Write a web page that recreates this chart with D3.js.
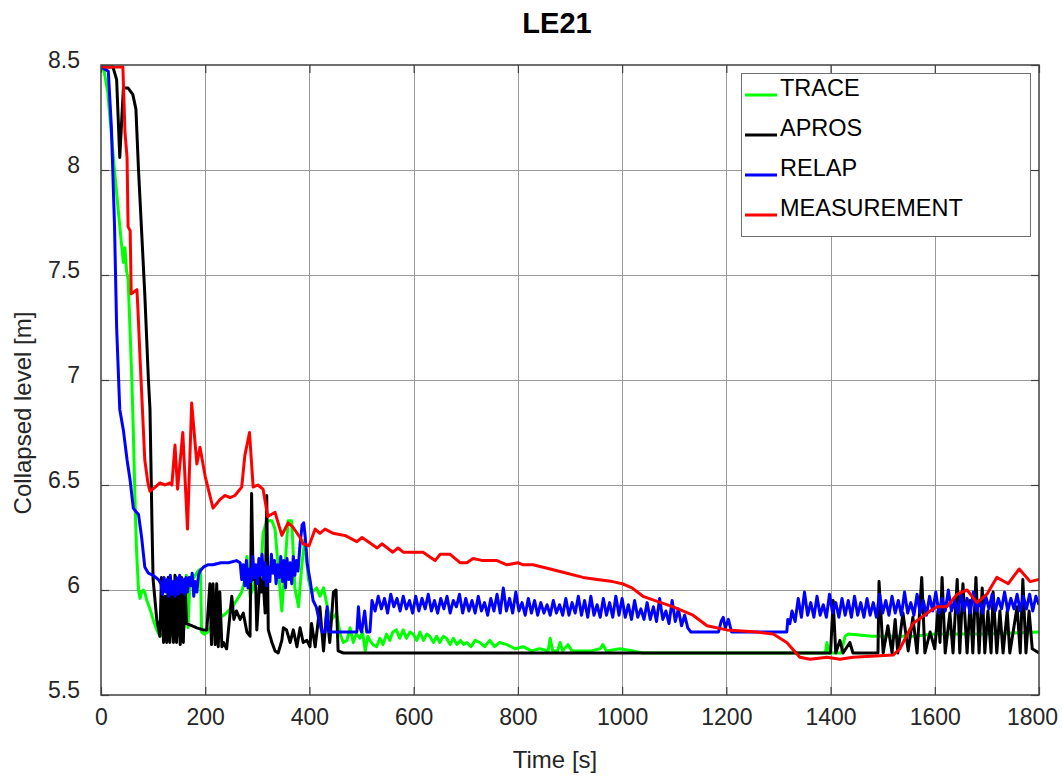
<!DOCTYPE html>
<html>
<head>
<meta charset="utf-8">
<script src="https://cdn.jsdelivr.net/npm/d3@7"></script>
<style>
  body { margin: 0; background: #fff; }
  text { font-family: "Liberation Sans", Arial, sans-serif; }
</style>
</head>
<body>
<svg id="chart" width="1062" height="776"></svg>
<script>
// series names + colours (legend order = draw order)
const seriesNames = ["TRACE", "APROS", "RELAP", "MEASUREMENT"];
const seriesColors = ["#00ff00", "#000000", "#0000ff", "#ff0000"];

const xTicks = [0, 200, 400, 600, 800, 1000, 1200, 1400, 1600, 1800];
const yTicks = [5.5, 6, 6.5, 7, 7.5, 8, 8.5];

// [time s, level m]
const traceData = [[0,8.49],[6,8.47],[13,8.37],[24,8.05],[33,7.81],[40,7.63],[43,7.56],[46,7.63],[49,7.52],[52,7.48],[56,7.22],[59,7.01],[62,6.76],[65,6.45],[68,6.2],[72,6.0],[75,5.96],[78,5.99],[81,6.0],[84,5.99],[88,5.95],[94,5.91],[100,5.86],[107,5.81],[113,5.78],[120,5.79],[130,5.77],[140,5.80],[150,5.78],[158,5.80],[162,5.86],[164,6.07],[167,5.82],[171,6.06],[176,6.05],[181,6.07],[186,6.09],[191,6.10],[193,5.80],[198,5.79],[205,5.80],[212,5.83],[220,5.85],[228,5.87],[236,5.88],[244,5.90],[252,5.92],[260,5.95],[265,5.97],[270,5.99],[276,6.05],[280,6.16],[283,6.05],[286,5.97],[292,6.01],[299,6.11],[305,6.01],[311,6.27],[318,6.33],[328,6.33],[334,6.29],[340,6.11],[347,5.90],[353,6.11],[359,6.33],[366,6.33],[372,6.01],[379,5.92],[385,6.11],[391,6.24],[398,6.05],[404,5.99],[410,6.0],[414,6.01],[420,5.97],[427,6.01],[436,5.90],[443,5.86],[452,5.89],[459,5.79],[465,5.75],[472,5.76],[478,5.82],[484,5.75],[490,5.79],[497,5.77],[502,5.80],[507,5.71],[512,5.78],[516,5.76],[522,5.74],[529,5.73],[535,5.77],[541,5.74],[548,5.79],[554,5.76],[560,5.80],[567,5.81],[573,5.77],[580,5.81],[586,5.77],[593,5.80],[599,5.79],[606,5.76],[612,5.80],[619,5.76],[625,5.79],[631,5.78],[638,5.75],[644,5.78],[650,5.75],[657,5.78],[663,5.77],[670,5.74],[676,5.77],[683,5.74],[690,5.76],[696,5.74],[702,5.75],[710,5.73],[718,5.76],[727,5.75],[736,5.73],[746,5.76],[755,5.73],[765,5.75],[779,5.74],[795,5.72],[810,5.73],[826,5.71],[842,5.72],[858,5.71],[862,5.77],[867,5.71],[876,5.71],[881,5.75],[886,5.71],[896,5.74],[904,5.71],[940,5.71],[958,5.72],[963,5.74],[970,5.71],[996,5.72],[1021,5.71],[1040,5.70],[1390,5.70],[1393,5.75],[1397,5.70],[1420,5.70],[1428,5.78],[1434,5.79],[1480,5.78],[1560,5.78],[1600,5.79],[1700,5.79],[1800,5.80]];

const aprosData = [[0,8.49],[23,8.49],[30,8.43],[36,8.06],[43,8.39],[52,8.39],[61,8.36],[67,8.29],[72,8.0],[84,7.41],[91,7.0],[94,6.86],[98,6.29],[100,6.05],[107,5.86],[113,5.78],[116,6.06],[120,5.75],[123,5.97],[126,5.75],[129,6.06],[132,5.75],[136,5.99],[139,5.75],[142,6.07],[145,5.75],[148,6.01],[152,5.74],[155,6.06],[158,5.75],[161,6.05],[164,5.84],[174,5.83],[184,5.82],[196,5.81],[203,5.81],[209,6.03],[212,5.74],[215,6.03],[219,5.74],[222,6.03],[225,5.73],[228,5.99],[232,5.73],[235,5.75],[241,5.72],[251,5.97],[255,5.86],[260,5.90],[267,5.86],[273,5.89],[280,5.80],[286,5.78],[289,6.46],[292,6.05],[296,6.11],[299,5.81],[305,6.06],[308,5.99],[311,6.05],[315,5.89],[318,6.45],[321,5.81],[328,5.75],[334,5.71],[340,5.70],[347,5.76],[350,5.82],[356,5.81],[363,5.75],[369,5.81],[376,5.73],[382,5.82],[388,5.75],[395,5.76],[401,5.73],[404,5.84],[411,5.73],[420,5.92],[427,5.71],[433,5.90],[439,5.75],[446,5.99],[451,6.0],[455,5.71],[465,5.70],[1400,5.70],[1405,5.95],[1410,5.70],[1418,5.76],[1424,5.70],[1437,5.75],[1443,5.70],[1491,5.70],[1493,6.04],[1501,5.70],[1510,5.83],[1518,5.70],[1524,5.86],[1529,5.70],[1539,5.89],[1549,5.71],[1558,5.87],[1566,5.70],[1575,6.06],[1581,5.70],[1591,5.80],[1600,5.72],[1606,5.90],[1610,5.75],[1614,6.06],[1620,5.70],[1629,5.89],[1635,5.70],[1643,6.05],[1648,5.70],[1654,6.03],[1662,5.70],[1668,5.95],[1673,5.70],[1679,6.06],[1685,5.70],[1691,6.01],[1696,5.70],[1702,5.90],[1708,5.70],[1712,5.99],[1719,5.70],[1725,5.90],[1731,5.70],[1739,5.90],[1744,5.70],[1758,5.92],[1764,5.70],[1769,6.05],[1775,5.70],[1781,5.90],[1787,5.72],[1800,5.70]];

const relapData = [[0,8.49],[14,8.47],[20,8.2],[26,7.73],[30,7.25],[36,6.86],[43,6.76],[50,6.62],[56,6.52],[62,6.39],[68,6.37],[72,6.36],[78,6.25],[84,6.11],[91,6.08],[100,6.07],[110,6.05],
  [115,6.03],[118,5.98],[121,6.06],[124,5.99],[127,6.05],[130,5.97],[133,6.07],[136,5.98],[139,6.04],[142,5.97],[145,6.06],[148,5.98],[151,6.07],[154,5.99],[157,6.05],[160,5.98],[163,6.06],[166,5.99],[169,6.06],[172,6.02],[175,6.08],[178,5.97],[181,6.04],[184,5.99],[187,6.07],[190,6.09],
  [197,6.11],[205,6.12],[215,6.12],[230,6.13],[245,6.13],[260,6.14],[267,6.13],
  [270,6.05],[273,6.12],[276,6.02],[279,6.14],[282,6.01],[285,6.10],[288,6.04],[291,6.16],[294,6.06],[297,6.12],[300,6.03],[303,6.15],[306,6.07],[309,6.17],[312,6.05],[315,6.13],[318,6.02],[321,6.11],[324,6.04],[327,6.17],[330,6.08],[333,6.14],[336,6.03],[339,6.12],[342,6.06],[345,6.16],[348,6.04],[351,6.14],[354,6.01],[357,6.15],[360,6.05],[363,6.13],[366,6.03],[369,6.16],[372,6.07],[375,6.14],[378,6.09],[382,6.22],[386,6.31],[389,6.32],[392,6.25],[396,6.12],[401,6.05],[407,5.95],[413,5.92],[420,5.84],[424,5.80],[430,5.80],[434,5.92],[438,5.80],[450,5.80],[470,5.80],[491,5.80],[494,5.92],[497,5.82],[500,5.80],[506,5.90],[510,5.80],[516,5.80],[520,5.95],
  [526,5.90],[532,5.97],[538,5.91],[544,5.96],[550,5.89],[556,5.98],[562,5.92],[568,5.96],[574,5.90],[580,5.97],[586,5.91],[592,5.95],[598,5.89],[604,5.97],[610,5.90],[616,5.96],[622,5.91],[628,5.98],[634,5.90],[640,5.95],[646,5.89],[652,5.96],[658,5.91],[664,5.97],[670,5.89],[676,5.95],[682,5.92],[688,5.98],[694,5.89],[700,5.96],[706,5.90],[712,5.95],[718,5.89],[724,5.97],[730,5.90],[736,5.94],[742,5.88],[748,5.96],[754,5.90],[760,5.98],[766,5.89],[772,6.01],[778,5.90],[784,5.96],[790,5.89],[796,5.99],[802,5.90],[808,5.94],[814,5.88],[820,5.96],[826,5.89],[832,5.95],[838,5.88],[844,5.94],[850,5.89],[856,5.93],[862,5.88],[868,5.95],[874,5.89],[880,5.93],[886,5.88],[892,5.96],[898,5.88],[904,5.94],[910,5.89],[916,5.97],[922,5.88],[928,5.95],[934,5.87],[940,5.97],[946,5.88],[952,5.93],[958,5.87],[964,5.96],[970,5.88],[976,5.94],[982,5.87],[988,5.97],[994,5.88],[1000,5.96],[1006,5.87],[1012,5.93],[1018,5.86],[1024,5.95],[1030,5.87],[1036,5.91],[1042,5.86],[1048,5.94],[1054,5.86],[1060,5.92],[1066,5.85],[1072,5.96],[1078,5.86],[1084,5.90],[1090,5.84],[1096,5.95],[1102,5.85],[1108,5.91],[1114,5.83],[1120,5.88],[1126,5.82],[1132,5.80],
  [1150,5.80],[1185,5.80],[1190,5.85],[1194,5.87],[1198,5.82],[1204,5.86],[1210,5.80],[1250,5.80],[1300,5.80],[1316,5.80],[1318,5.86],[1322,5.84],
  [1326,5.90],[1332,5.85],[1338,5.96],[1344,5.87],[1350,5.99],[1356,5.88],[1362,5.94],[1368,5.87],[1374,5.97],[1380,5.88],[1386,5.93],[1392,5.87],[1398,5.98],[1404,5.89],[1410,5.94],[1416,5.87],[1422,5.96],[1428,5.88],[1434,5.95],[1440,5.87],[1446,5.97],[1452,5.88],[1458,5.94],[1464,5.87],[1470,5.96],[1476,5.88],[1482,5.94],[1488,5.87],[1494,5.98],[1500,5.89],[1506,5.95],[1512,5.88],[1518,5.97],[1524,5.89],[1530,5.95],[1536,5.88],[1542,5.99],[1548,5.89],[1554,5.94],[1560,5.88],[1566,5.98],[1572,5.89],[1578,5.95],[1584,5.88],[1590,5.97],[1596,5.90],[1602,5.99],[1608,5.89],[1614,5.96],[1620,5.90],[1626,6.00],[1632,5.90],[1638,5.95],[1644,5.89],[1650,5.98],[1656,5.90],[1662,5.96],[1668,5.89],[1674,5.99],[1680,5.90],[1686,5.95],[1692,5.89],[1698,5.97],[1704,5.91],[1710,5.98],[1716,5.90],[1722,5.96],[1728,5.91],[1734,5.99],[1740,5.90],[1746,5.96],[1752,5.91],[1758,5.98],[1764,5.90],[1770,5.97],[1776,5.91],[1782,5.98],[1788,5.90],[1794,5.97],[1800,5.93]];

const measData = [[0,8.49],[42,8.49],[46,8.18],[50,8.06],[52,7.73],[56,7.71],[58,7.41],[69,7.43],[71,7.33],[75,7.10],[78,6.94],[84,6.62],[90,6.51],[94,6.47],[104,6.49],[113,6.51],[123,6.50],[132,6.51],[136,6.50],[142,6.69],[147,6.48],[157,6.75],[166,6.29],[174,6.89],[184,6.60],[190,6.68],[200,6.54],[215,6.39],[228,6.43],[238,6.45],[248,6.44],[257,6.45],[270,6.49],[276,6.64],[285,6.75],[292,6.49],[301,6.50],[311,6.48],[320,6.35],[334,6.37],[347,6.26],[359,6.32],[368,6.30],[382,6.25],[388,6.22],[399,6.21],[411,6.29],[420,6.27],[430,6.29],[445,6.27],[468,6.26],[491,6.23],[501,6.25],[530,6.20],[539,6.22],[560,6.18],[570,6.20],[580,6.18],[606,6.18],[618,6.18],[641,6.14],[651,6.17],[670,6.17],[689,6.13],[702,6.13],[714,6.15],[733,6.14],[760,6.14],[779,6.12],[800,6.13],[810,6.12],[829,6.12],[862,6.10],[894,6.08],[925,6.06],[952,6.05],[982,6.04],[1000,6.03],[1019,6.01],[1040,5.97],[1098,5.92],[1136,5.88],[1163,5.83],[1201,5.81],[1259,5.80],[1290,5.79],[1316,5.75],[1341,5.68],[1361,5.67],[1393,5.68],[1418,5.67],[1443,5.68],[1520,5.69],[1533,5.72],[1558,5.84],[1591,5.90],[1604,5.92],[1623,5.92],[1643,5.98],[1662,6.00],[1681,5.94],[1700,5.98],[1719,6.06],[1741,6.03],[1762,6.10],[1783,6.04],[1800,6.05]];

const allSeries = [traceData, aprosData, relapData, measData];

const svg = d3.select("#chart");
svg.append("rect").attr("width", 1062).attr("height", 776).attr("fill", "#fff");

const mLeft = 101, mRight = 1039, mTop = 65, mBottom = 695;
const x = d3.scaleLinear().domain([0, 1800]).range([mLeft, mRight]);
const y = d3.scaleLinear().domain([5.5, 8.5]).range([mBottom, mTop]);

// grid
const grid = svg.append("g").attr("stroke", "#999").attr("stroke-width", 1);
grid.selectAll("line.v").data(xTicks.slice(1, -1)).enter().append("line")
  .attr("x1", d => Math.round(x(d)) + 0.5).attr("x2", d => Math.round(x(d)) + 0.5)
  .attr("y1", mTop).attr("y2", mBottom);
grid.selectAll("line.h").data(yTicks.slice(1, -1)).enter().append("line")
  .attr("y1", d => Math.round(y(d)) + 0.5).attr("y2", d => Math.round(y(d)) + 0.5)
  .attr("x1", mLeft).attr("x2", mRight);

svg.append("clipPath").attr("id", "clip").append("rect")
  .attr("x", mLeft).attr("y", mTop - 2).attr("width", mRight - mLeft).attr("height", mBottom - mTop + 2);

const line = d3.line().x(d => x(d[0])).y(d => y(d[1]));
svg.append("g").attr("clip-path", "url(#clip)")
  .selectAll("path").data(allSeries).enter().append("path")
  .attr("d", line)
  .attr("fill", "none")
  .attr("stroke", (d, i) => seriesColors[i])
  .attr("stroke-width", 3)
  .attr("stroke-linejoin", "round");

// axes, ticks inward
const axCol = "#262626";
function styleAxis(g) {
  g.select(".domain").remove();
  g.selectAll(".tick line").attr("stroke", "#404040").attr("stroke-width", 1.2);
  g.selectAll("text").attr("fill", axCol).style("font-size", "23px");
}
const xAxis = svg.append("g").attr("transform", `translate(0,${mBottom})`)
  .call(d3.axisBottom(x).tickValues(xTicks).tickSize(-8).tickPadding(14).tickFormat(d3.format("d")));
styleAxis(xAxis);
xAxis.selectAll(".tick").filter(d => d === 1800).select("text").attr("dx", -7);

const yAxis = svg.append("g").attr("transform", `translate(${mLeft},0)`)
  .call(d3.axisLeft(y).tickValues(yTicks).tickSize(-8).tickPadding(21).tickFormat(d => String(d)));
styleAxis(yAxis);
yAxis.selectAll("text").attr("dy", "0.09em");

svg.append("g").attr("transform", `translate(0,${mTop})`)
  .call(d3.axisTop(x).tickValues(xTicks).tickSize(-8).tickFormat(""))
  .call(styleAxis);
svg.append("g").attr("transform", `translate(${mRight},0)`)
  .call(d3.axisRight(y).tickValues(yTicks).tickSize(-8).tickFormat(""))
  .call(styleAxis);

svg.append("rect").attr("x", mLeft).attr("y", mTop).attr("width", mRight - mLeft).attr("height", mBottom - mTop)
  .attr("fill", "none").attr("stroke", "#404040").attr("stroke-width", 1.5);

// labels
svg.append("text").attr("x", 557).attr("y", 33).attr("text-anchor", "middle")
  .style("font-size", "29px").style("font-weight", "bold").attr("fill", "#000").text("LE21");
svg.append("text").attr("x", 555).attr("y", 768).attr("text-anchor", "middle")
  .style("font-size", "24px").attr("fill", axCol).text("Time [s]");
svg.append("text").attr("transform", "translate(31,413) rotate(-90)").attr("text-anchor", "middle")
  .style("font-size", "24px").attr("fill", axCol).text("Collapsed level [m]");

// legend
const lg = svg.append("g");
lg.append("rect").attr("x", 741.5).attr("y", 73.5).attr("width", 289).attr("height", 163)
  .attr("fill", "#fff").attr("stroke", "#6e6e6e").attr("stroke-width", 1);
seriesNames.forEach((name, i) => {
  const yy = 95 + i * 40;
  lg.append("line").attr("x1", 745).attr("x2", 777).attr("y1", yy).attr("y2", yy)
    .attr("stroke", seriesColors[i]).attr("stroke-width", 3);
  lg.append("text").attr("x", 780).attr("y", yy + 1).style("font-size", "23.5px").attr("fill", "#000").text(name);
});
</script>
</body>
</html>
